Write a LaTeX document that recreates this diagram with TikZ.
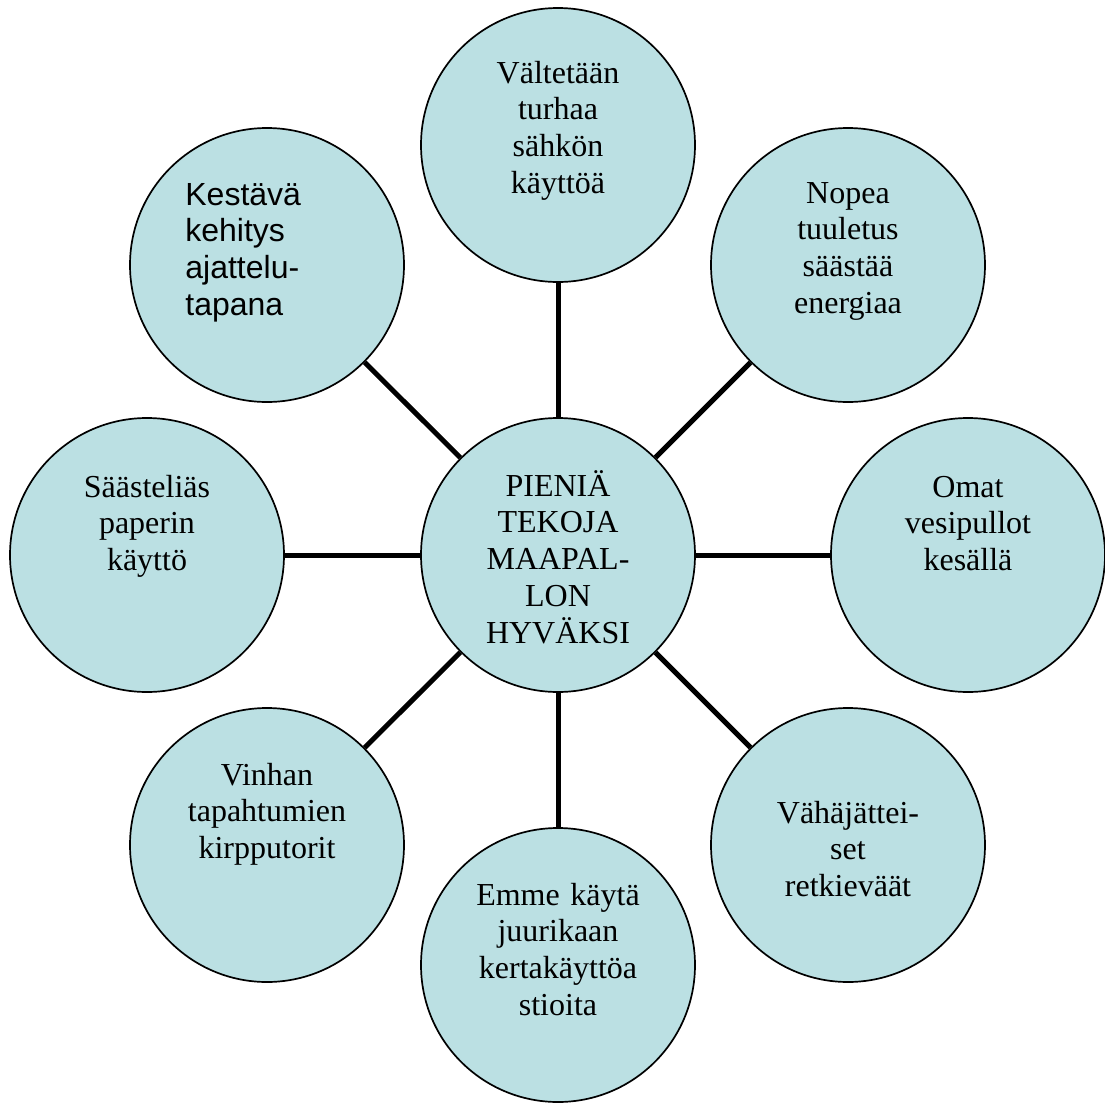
\documentclass[tikz,border=0pt]{standalone}
\usepackage{fontspec}
\setmainfont{Liberation Serif}
\newfontfamily\arialfont{Liberation Sans}
\definecolor{bubblefill}{RGB}{187,224,227}
\begin{document}
\begin{tikzpicture}[x=0.5pt,y=-0.5pt,
  bubble/.style={circle, draw=black, line width=0.85pt, fill=bubblefill, minimum size=137pt, inner sep=0pt},
  bubbletext/.style={anchor=base, inner sep=0pt, text width=130pt, align=center, font=\fontsize{16}{18.4}\selectfont},
  link/.style={line width=2.5pt}
]
\useasboundingbox (0,0) rectangle (1105,1104);
\node[bubble] (c)  at (558,555) {};
\node[bubble] (n)  at (558,145) {};
\node[bubble] (ne) at (848,265) {};
\node[bubble] (e)  at (968,555) {};
\node[bubble] (se) at (848,845) {};
\node[bubble] (s)  at (558,965) {};
\node[bubble] (sw) at (267,845) {};
\node[bubble] (w)  at (147,555) {};
\node[bubble] (nw) at (267,265) {};
\foreach \t in {n,ne,e,se,s,sw,w,nw}{\draw[link] (c) -- (\t);}
\node[bubbletext] (tc)  at (558,496) {PIENIÄ\\TEKOJA\\MAAPAL-\\LON\\HYVÄKSI};
\node[bubbletext] (tn)  at (558,83)  {Vältetään\\turhaa\\sähkön\\käyttöä};
\node[bubbletext] (tne) at (848,203) {Nopea\\tuuletus\\säästää\\energiaa};
\node[bubbletext] (te)  at (968,497) {Omat\\vesipullot\\kesällä};
\node[bubbletext] (tse) at (848,823) {Vähäjättei-\\set\\retkieväät};
\node[bubbletext] (ts)  at (558,905) {Emme käytä\\juurikaan\\kertakäyttöa\\stioita};
\node[bubbletext] (tsw) at (267,785) {Vinhan\\tapahtumien\\kirpputorit};
\node[bubbletext] (tw)  at (147,497) {Säästeliäs\\paperin\\käyttö};
\node[bubbletext, anchor=base west, align=left, font=\arialfont\fontsize{16}{18.4}\selectfont] (tnw) at (185,205) {Kestävä\\kehitys\\ajattelu-\\tapana};
\end{tikzpicture}
\end{document}
